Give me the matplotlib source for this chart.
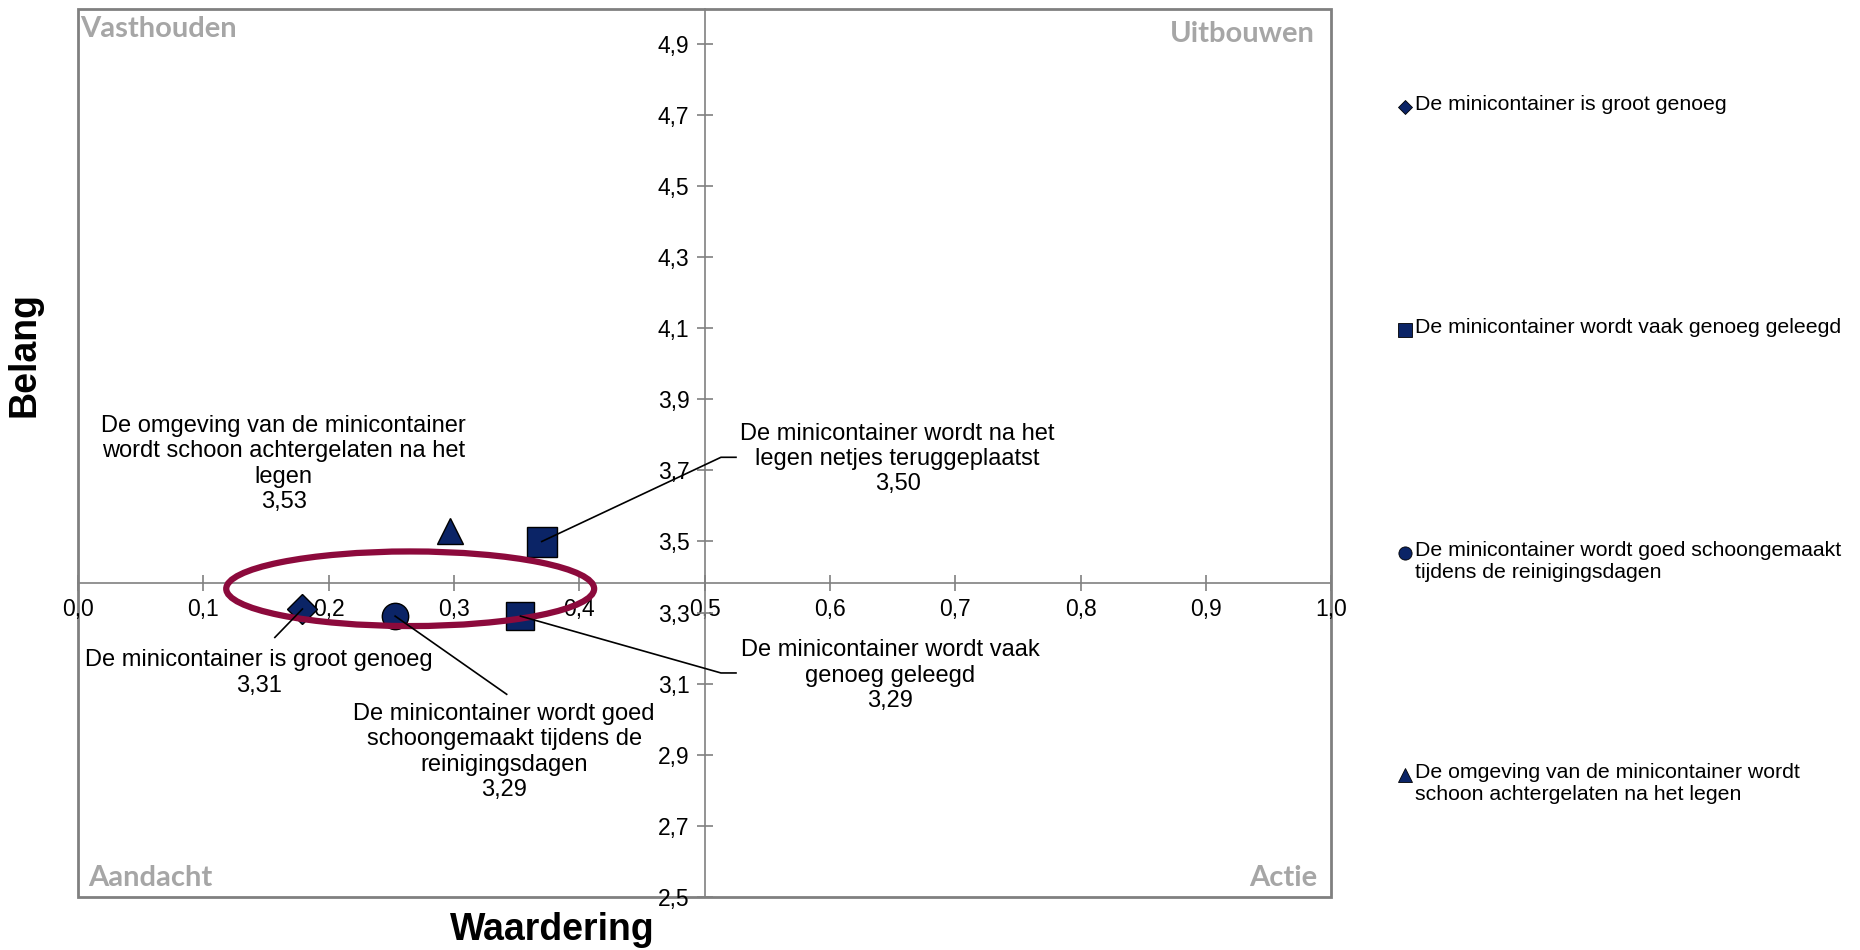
import numpy as np
import matplotlib
matplotlib.use('Agg')
import matplotlib.pyplot as plt
import matplotlib.patches as patches
from matplotlib.lines import Line2D
from matplotlib.ticker import FuncFormatter

# data
series_names = ['De minicontainer is groot genoeg',
                'De minicontainer wordt vaak genoeg geleegd',
                'De minicontainer wordt goed schoongemaakt tijdens de reinigingsdagen',
                'De omgeving van de minicontainer wordt schoon achtergelaten na het legen',
                'De minicontainer wordt na het legen netjes teruggeplaatst']
waardering = [0.179, 0.353, 0.253, 0.297, 0.370]
belang = [3.31, 3.29, 3.29, 3.53, 3.50]
markers = ['D', 's', 'o', '^', 's']
marker_sizes = [15, 20, 19, 19, 21]
in_legend = [True, True, True, True, False]
legend_labels = ['De minicontainer is groot genoeg',
                 'De minicontainer wordt vaak genoeg geleegd',
                 'De minicontainer wordt goed schoongemaakt\ntijdens de reinigingsdagen',
                 'De omgeving van de minicontainer wordt\nschoon achtergelaten na het legen']

point_labels = ['De minicontainer is groot genoeg',
                'De minicontainer wordt vaak\ngenoeg geleegd',
                'De minicontainer wordt goed\nschoongemaakt tijdens de\nreinigingsdagen',
                'De omgeving van de minicontainer\nwordt schoon achtergelaten na het\nlegen',
                'De minicontainer wordt na het\nlegen netjes teruggeplaatst']
label_pos = [(0.144, 3.13), (0.648, 3.122), (0.340, 2.907), (0.164, 3.718), (0.654, 3.732)]
leaders = [[(0.157, 3.23)],
           [(0.513, 3.13), (0.525, 3.13)],
           [(0.342, 3.07)],
           [],
           [(0.513, 3.737), (0.525, 3.737)]]

x_cross = 0.5
y_cross = 3.383
quadrants = ['Vasthouden', 'Uitbouwen', 'Aandacht', 'Actie']

navy = '#0b2466'
grey = '#808080'
narrow = ['Liberation Sans Narrow', 'Liberation Sans', 'DejaVu Sans']
regular = ['Liberation Sans', 'DejaVu Sans']

fig = plt.figure(figsize=(18.6, 9.5), dpi=100)
ax = fig.add_axes([0.042, 0.056, 0.6737, 0.935])
ax.set_xlim(0, 1.0)
ax.set_ylim(2.5, 5.0)

# axes crossing in the middle
ax.spines['left'].set_position(('data', x_cross))
ax.spines['bottom'].set_position(('data', y_cross))
ax.spines['top'].set_visible(False)
ax.spines['right'].set_visible(False)
for s in ['left', 'bottom']:
    ax.spines[s].set_color(grey)
    ax.spines[s].set_linewidth(1.2)
ax.add_patch(patches.Rectangle((0, 0), 1, 1, transform=ax.transAxes, fill=False,
                               edgecolor=grey, linewidth=2.0, clip_on=False, zorder=1))

ax.set_xticks(np.arange(0, 1.01, 0.1))
ax.set_yticks(np.arange(2.5, 4.91, 0.2))
fmt = FuncFormatter(lambda v, p: ('%.1f' % v).replace('.', ','))
ax.xaxis.set_major_formatter(fmt)
ax.yaxis.set_major_formatter(fmt)
ax.tick_params(direction='inout', length=12, width=1.2, color=grey, labelsize=16.5)
ax.tick_params(axis='x', pad=5)
ax.tick_params(axis='y', pad=5)
for lab in ax.get_xticklabels() + ax.get_yticklabels():
    lab.set_family(narrow)

# points
for i in range(len(series_names)):
    ax.plot(waardering[i], belang[i], marker=markers[i], markersize=marker_sizes[i],
            color=navy, markeredgecolor='black', markeredgewidth=1.0, linestyle='none', zorder=5)

# ellipse around the low group
ax.add_patch(patches.Ellipse((0.265, 3.367), 0.2936, 0.21, fill=False,
                             edgecolor='#8c0a3c', linewidth=4.5, zorder=6))

# labels with leader lines
for i in range(len(series_names)):
    if leaders[i]:
        xs = [waardering[i]] + [p[0] for p in leaders[i]]
        ys = [belang[i]] + [p[1] for p in leaders[i]]
        ax.plot(xs, ys, color='black', linewidth=1.2, zorder=7)
    txt = point_labels[i] + '\n' + ('%.2f' % belang[i]).replace('.', ',')
    ax.text(label_pos[i][0], label_pos[i][1], txt, ha='center', va='center',
            multialignment='center', fontsize=17, family=narrow, linespacing=1.2, zorder=8)

# quadrant names
qkw = dict(color='#a6a6a6', fontsize=21, family=['Lato', 'DejaVu Sans'], fontweight='bold')
ax.text(0.002, 0.992, quadrants[0], transform=ax.transAxes, ha='left', va='top', **qkw)
ax.text(0.987, 0.986, quadrants[1], transform=ax.transAxes, ha='right', va='top', **qkw)
ax.text(0.008, 0.006, quadrants[2], transform=ax.transAxes, ha='left', va='bottom', **qkw)
ax.text(0.989, 0.006, quadrants[3], transform=ax.transAxes, ha='right', va='bottom', **qkw)

fig.text(0.297, 0.021, 'Waardering', ha='center', va='center', fontsize=27,
         fontweight='bold', family=narrow)
fig.text(0.013, 0.627, 'Belang', ha='center', va='center', fontsize=27,
         fontweight='bold', family=narrow, rotation=90)

# legend on the right, one entry at a time
legend_y = [0.887, 0.653, 0.418, 0.184]
k = 0
for i in range(len(series_names)):
    if not in_legend[i]:
        continue
    y = legend_y[k]
    fig.add_artist(Line2D([0.7553], [y], marker=markers[i], markersize=marker_sizes[i] * 0.5,
                          color=navy, markeredgecolor='black', markeredgewidth=0.6,
                          linestyle='none', transform=fig.transFigure))
    fig.text(0.7608, y + 0.0125, legend_labels[k], ha='left', va='top', fontsize=15.3,
             family=regular, linespacing=1.2)
    k += 1

fig.savefig('out.png', dpi=100)
